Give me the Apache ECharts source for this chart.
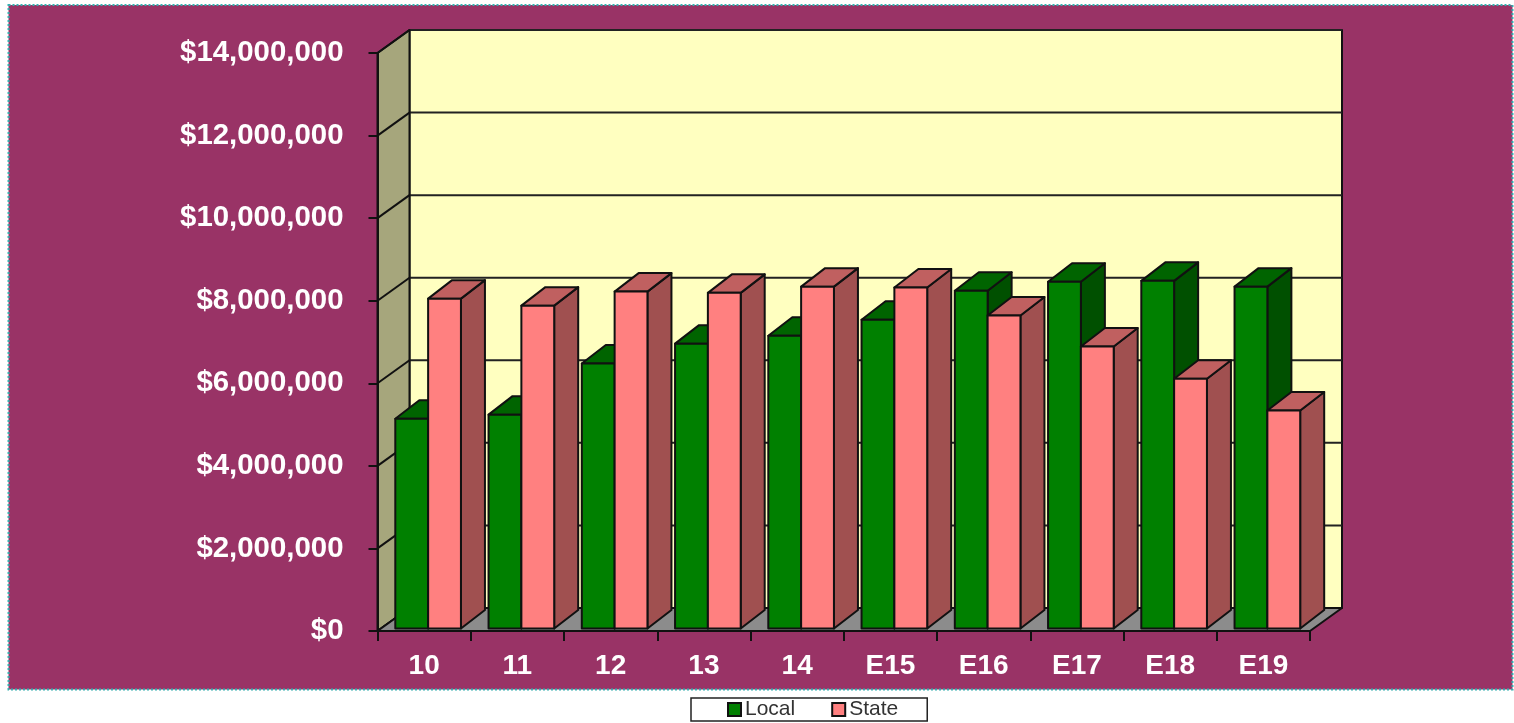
<!DOCTYPE html>
<html><head><meta charset="utf-8">
<style>html,body{margin:0;padding:0;background:#fff}#c{width:1514px;height:723px}</style>
<script src="https://cdn.jsdelivr.net/npm/echarts@6/dist/echarts.min.js"></script>
</head><body><div id="c"></div>
<script>
const categories = ['10','11','12','13','14','E15','E16','E17','E18','E19'];
const localValues = [5080000,5180000,6420000,6900000,7090000,7480000,8180000,8400000,8420000,8280000];
const stateValues = [7990000,7820000,8160000,8130000,8280000,8260000,7580000,6830000,6050000,5280000];
const yTicks = [0,2000000,4000000,6000000,8000000,10000000,12000000,14000000];

const WALL_DX = 32, WALL_DY = -23;
const BAR_DX = 24, BAR_DY = -18.5, BAR_FX = 4, BAR_FY = -2.5, BAR_RATIO = 0.352;

function poly(points, fill) {
  return {type:'polygon', shape:{points}, style:{fill, stroke:'#111', lineWidth:2, lineJoin:'round'}};
}
function renderWalls(params, api) {
  const cs = params.coordSys;
  const L = cs.x, R = cs.x + cs.width, T = cs.y, B = cs.y + cs.height;
  const d = WALL_DX, h = WALL_DY;
  const children = [poly([[L+d,T+h],[R+d,T+h],[R+d,B+h],[L+d,B+h]], '#ffffc0')];
  yTicks.forEach(v => {
    const y = api.coord([0, v])[1];
    children.push({type:'line', shape:{x1:L+d,y1:y+h,x2:R+d,y2:y+h}, style:{stroke:'#222', lineWidth:2}});
  });
  children.push(poly([[L,B],[L,T],[L+d,T+h],[L+d,B+h]], '#a6a67c'));
  yTicks.forEach(v => {
    const y = api.coord([0, v])[1];
    children.push({type:'line', shape:{x1:L,y1:y,x2:L+d,y2:y+h}, style:{stroke:'#111', lineWidth:2}});
  });
  children.push(poly([[L,B],[R,B],[R+d,B+h],[L+d,B+h]], '#8c8c8c'));
  return {type:'group', children};
}
function barRenderer(pos, front, top, side) {
  return function (params, api) {
    const cat = api.value(0), val = api.value(1);
    const c = api.coord([cat, val]), base = api.coord([cat, 0]);
    const w = api.size([1, 0])[0] * BAR_RATIO;
    const x0 = c[0] + BAR_FX + (pos - 1) * w, x1 = x0 + w;
    const yt = c[1] + BAR_FY, yb = base[1] + BAR_FY;
    return {type:'group', children:[
      poly([[x1,yt],[x1+BAR_DX,yt+BAR_DY],[x1+BAR_DX,yb+BAR_DY],[x1,yb]], side),
      poly([[x0,yt],[x0+BAR_DX,yt+BAR_DY],[x1+BAR_DX,yt+BAR_DY],[x1,yt]], top),
      poly([[x0,yt],[x1,yt],[x1,yb],[x0,yb]], front)
    ]};
  };
}
const pairs = a => a.map((v,i)=>[i,v]);
const chart = echarts.init(document.getElementById('c'), null, {renderer:'canvas'});
chart.setOption({
  animation:false,
  backgroundColor:'#ffffff',
  textStyle:{fontFamily:'"Liberation Sans", Arial, sans-serif'},
  graphic:[{type:'rect', z:-10, silent:true, shape:{x:8.5,y:5,width:1504,height:684.5},
    style:{fill:'#993366', stroke:'#35b0b0', lineWidth:2, lineDash:[2,2]}}],
  grid:{left:377.5, top:53, width:932.5, height:578, containLabel:false},
  legend:{
    data:['Local','State'], left:691, top:698, orient:'horizontal',
    backgroundColor:'#fff', borderColor:'#222', borderWidth:1.5,
    padding:[1,29,1,36], itemGap:36, itemWidth:13, itemHeight:13, icon:'rect',
    selectedMode:false, textStyle:{fontSize:21, color:'#333', padding:[0,0,0,-1]},
    formatter:n=>n
  },
  xAxis:{type:'category', data:categories, z:2,
    axisLine:{lineStyle:{color:'#111', width:2}},
    axisTick:{show:true, length:10, lineStyle:{color:'#111', width:2}},
    axisLabel:{color:'#fff', fontWeight:'bold', fontSize:28, margin:21}},
  yAxis:{type:'value', min:0, max:14000000, interval:2000000, z:2,
    axisLine:{show:true, lineStyle:{color:'#111', width:2}},
    axisTick:{show:true, length:9, lineStyle:{color:'#111', width:2}},
    splitLine:{show:false},
    axisLabel:{color:'#fff', fontWeight:'bold', fontSize:29.4, margin:34, padding:[2,0,0,0],
      formatter:v=>'$'+Number(v).toLocaleString('en-US')}},
  series:[
    {type:'custom', name:'walls', silent:true, z:1, data:[[0,0]], encode:{x:0,y:1}, renderItem:renderWalls},
    {type:'custom', name:'Local', silent:true, z:3, data:pairs(localValues), encode:{x:0,y:1},
      itemStyle:{color:'#008000', borderColor:'#111', borderWidth:2},
      renderItem:barRenderer(0,'#008000','#006400','#005000')},
    {type:'custom', name:'State', silent:true, z:4, data:pairs(stateValues), encode:{x:0,y:1},
      itemStyle:{color:'#ff8080', borderColor:'#111', borderWidth:2},
      renderItem:barRenderer(1,'#ff8080','#c06060','#a05050')}
  ]
});
</script></body></html>
